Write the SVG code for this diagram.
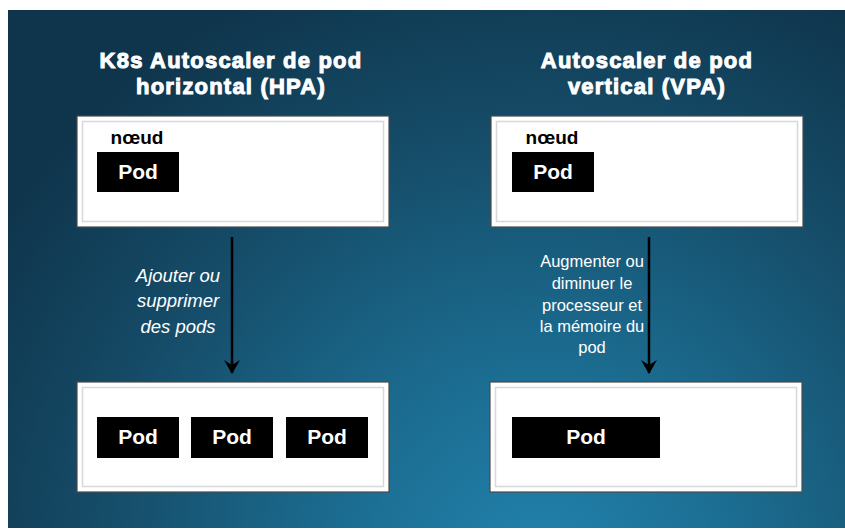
<svg xmlns="http://www.w3.org/2000/svg" width="845" height="529" viewBox="0 0 845 529">
  <defs>
    <radialGradient id="bg" cx="540" cy="570" r="640" gradientUnits="userSpaceOnUse">
      <stop offset="0" stop-color="#2283ae"/>
      <stop offset="0.35" stop-color="#1b6a8e"/>
      <stop offset="0.7" stop-color="#154b67"/>
      <stop offset="1" stop-color="#0f354c"/>
    </radialGradient>
    <marker id="arrow" viewBox="0 0 14 16" refX="13" refY="8" markerWidth="14" markerHeight="16" markerUnits="userSpaceOnUse" orient="auto">
      <path d="M0,0 L14,8 L0,16 L5,8 Z" fill="#000"/>
    </marker>
  </defs>
  <style>
    .title { font-family: "Liberation Sans", Arial, sans-serif; font-weight: bold; font-size: 22px; fill: #fff; stroke: #fff; stroke-width: 1px; letter-spacing: 1.2px; text-anchor: middle; }
    .box { fill: #fff; stroke: #4a4a4a; stroke-width: 1.2; }
    .bevel { fill: none; stroke: #d8d8d8; stroke-width: 1.5; }
    .pod { fill: #000; }
    .podtxt { font-family: "Liberation Sans", Arial, sans-serif; font-weight: bold; font-size: 21px; fill: #fff; text-anchor: middle; }
    .noeud { font-family: "Liberation Sans", Arial, sans-serif; font-weight: bold; font-size: 19px; fill: #000; text-anchor: middle; }
    .lbl-i { font-family: "Liberation Sans", Arial, sans-serif; font-style: italic; font-size: 18.5px; fill: #fff; text-anchor: middle; }
    .lbl { font-family: "Liberation Sans", Arial, sans-serif; font-size: 16.5px; fill: #fff; text-anchor: middle; }
    .conn { stroke: #000; stroke-width: 2.5; fill: none; }
  </style>

  <rect x="0" y="0" width="845" height="529" fill="#fff"/>
  <rect x="8" y="10" width="837" height="518" fill="url(#bg)"/>

  <g id="titles">
    <text class="title" x="231" y="68">K8s Autoscaler de pod</text>
    <text class="title" x="231" y="94">horizontal (HPA)</text>
    <text class="title" x="647" y="68">Autoscaler de pod</text>
    <text class="title" x="647" y="94">vertical (VPA)</text>
  </g>

  <g id="hpa-node-before">
    <rect class="box" x="77" y="116" width="312" height="111"/>
    <rect class="bevel" x="82.5" y="121.5" width="301" height="100"/>
    <text class="noeud" x="137" y="144">nœud</text>
    <rect class="pod" x="97" y="152" width="82" height="40"/>
    <text class="podtxt" x="138" y="179">Pod</text>
  </g>

  <g id="vpa-node-before">
    <rect class="box" x="491" y="116" width="312" height="111"/>
    <rect class="bevel" x="496.5" y="121.5" width="301" height="100"/>
    <text class="noeud" x="552" y="144">nœud</text>
    <rect class="pod" x="512" y="152" width="82" height="40"/>
    <text class="podtxt" x="553" y="179">Pod</text>
  </g>

  <g id="hpa-node-after">
    <rect class="box" x="77" y="382" width="312" height="110"/>
    <rect class="bevel" x="82.5" y="387.5" width="301" height="99"/>
    <rect class="pod" x="97" y="417" width="82" height="41"/>
    <text class="podtxt" x="138" y="444">Pod</text>
    <rect class="pod" x="191" y="417" width="82" height="41"/>
    <text class="podtxt" x="232" y="444">Pod</text>
    <rect class="pod" x="286" y="417" width="82" height="41"/>
    <text class="podtxt" x="327" y="444">Pod</text>
  </g>

  <g id="vpa-node-after">
    <rect class="box" x="490" y="382" width="312" height="110"/>
    <rect class="bevel" x="495.5" y="387.5" width="301" height="99"/>
    <rect class="pod" x="512" y="417" width="148" height="41"/>
    <text class="podtxt" x="586" y="444">Pod</text>
  </g>

  <g id="connectors">
    <line class="conn" x1="232" y1="237" x2="232" y2="373" marker-end="url(#arrow)"/>
    <line class="conn" x1="649" y1="237" x2="649" y2="373" marker-end="url(#arrow)"/>
  </g>

  <g id="labels">
    <text class="lbl-i" x="178" y="282">Ajouter ou</text>
    <text class="lbl-i" x="178" y="307">supprimer</text>
    <text class="lbl-i" x="178" y="333">des pods</text>
    <text class="lbl" x="592" y="267">Augmenter ou</text>
    <text class="lbl" x="592" y="289">diminuer le</text>
    <text class="lbl" x="592" y="311">processeur et</text>
    <text class="lbl" x="592" y="332">la mémoire du</text>
    <text class="lbl" x="592" y="353">pod</text>
  </g>
</svg>
